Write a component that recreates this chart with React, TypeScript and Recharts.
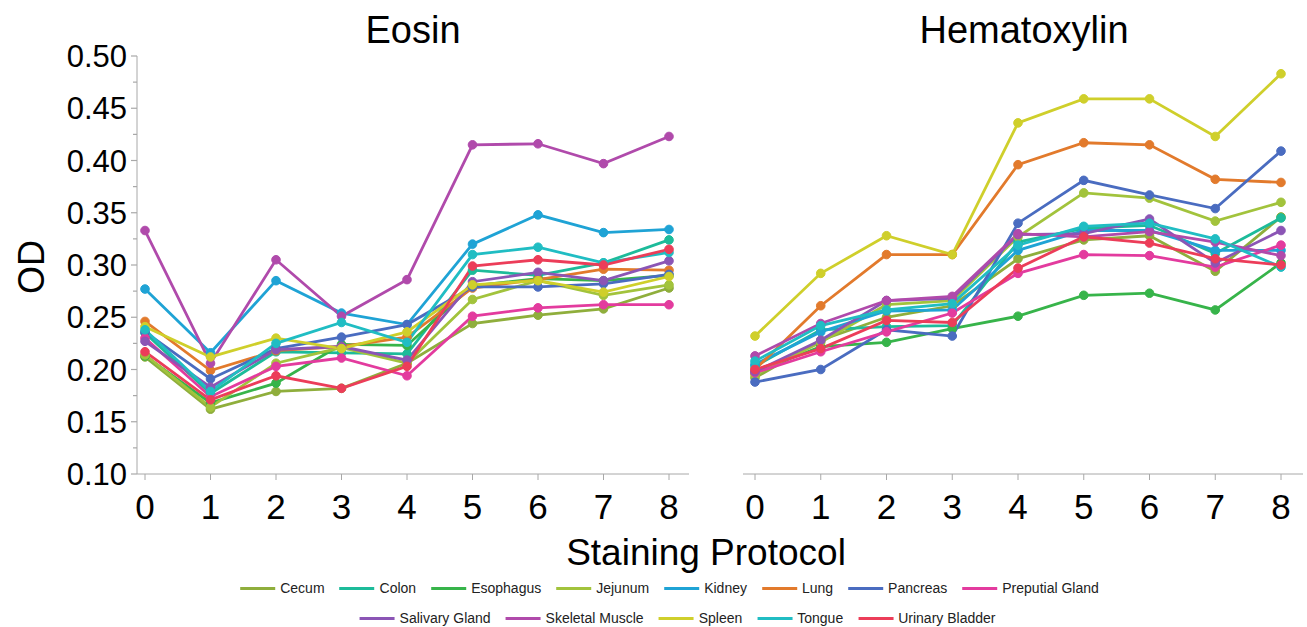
import { LineChart, Line, XAxis, YAxis } from 'recharts';

const protocols = [0, 1, 2, 3, 4, 5, 6, 7, 8];
const yTicks = [0.1, 0.125, 0.15, 0.175, 0.2, 0.225, 0.25, 0.275, 0.3, 0.325, 0.35, 0.375, 0.4, 0.425, 0.45, 0.475, 0.5];

const tissues = [
  'Cecum',
  'Colon',
  'Esophagus',
  'Jejunum',
  'Kidney',
  'Lung',
  'Pancreas',
  'Preputial Gland',
  'Salivary Gland',
  'Skeletal Muscle',
  'Spleen',
  'Tongue',
  'Urinary Bladder',
];
const tissueColors = [
  '#8fae3c',
  '#1dbb9a',
  '#37b44a',
  '#a2c33c',
  '#1fa3d5',
  '#e27a2c',
  '#4a6cc0',
  '#e33b9e',
  '#8b55b5',
  '#b04aab',
  '#cfcf2b',
  '#20bdc3',
  '#ec3d59',
];

// Eosin OD per protocol
const eosinCecum = [0.212, 0.162, 0.179, 0.182, 0.206, 0.244, 0.252, 0.258, 0.278];
const eosinColon = [0.235, 0.177, 0.217, 0.216, 0.215, 0.295, 0.29, 0.302, 0.324];
const eosinEsophagus = [0.213, 0.168, 0.187, 0.224, 0.223, 0.28, 0.287, 0.285, 0.29];
const eosinJejunum = [0.214, 0.164, 0.206, 0.221, 0.206, 0.267, 0.285, 0.271, 0.281];
const eosinKidney = [0.277, 0.216, 0.285, 0.254, 0.243, 0.32, 0.348, 0.331, 0.334];
const eosinLung = [0.246, 0.199, 0.218, 0.222, 0.231, 0.278, 0.286, 0.296, 0.295];
const eosinPancreas = [0.236, 0.191, 0.22, 0.231, 0.243, 0.279, 0.279, 0.282, 0.291];
const eosinPreputial = [0.23, 0.174, 0.203, 0.211, 0.194, 0.251, 0.259, 0.262, 0.262];
const eosinSalivary = [0.227, 0.183, 0.219, 0.222, 0.209, 0.284, 0.293, 0.285, 0.304];
const eosinSkeletal = [0.333, 0.206, 0.305, 0.251, 0.286, 0.415, 0.416, 0.397, 0.423];
const eosinSpleen = [0.241, 0.212, 0.23, 0.22, 0.236, 0.281, 0.285, 0.274, 0.289];
const eosinTongue = [0.238, 0.179, 0.225, 0.245, 0.226, 0.31, 0.317, 0.302, 0.312];
const eosinUrinary = [0.217, 0.171, 0.194, 0.182, 0.203, 0.299, 0.305, 0.3, 0.315];

// Hematoxylin OD per protocol
const hemaCecum = [0.192, 0.228, 0.25, 0.261, 0.306, 0.324, 0.328, 0.294, 0.346];
const hemaColon = [0.203, 0.238, 0.241, 0.242, 0.322, 0.335, 0.338, 0.311, 0.345];
const hemaEsophagus = [0.197, 0.222, 0.226, 0.239, 0.251, 0.271, 0.273, 0.257, 0.302];
const hemaJejunum = [0.195, 0.226, 0.262, 0.266, 0.327, 0.369, 0.364, 0.342, 0.36];
const hemaKidney = [0.205, 0.236, 0.256, 0.257, 0.314, 0.333, 0.333, 0.314, 0.314];
const hemaLung = [0.2, 0.261, 0.31, 0.31, 0.396, 0.417, 0.415, 0.382, 0.379];
const hemaPancreas = [0.188, 0.2, 0.238, 0.232, 0.34, 0.381, 0.367, 0.354, 0.409];
const hemaPreputial = [0.197, 0.217, 0.236, 0.254, 0.292, 0.31, 0.309, 0.298, 0.319];
const hemaSalivary = [0.198, 0.228, 0.266, 0.268, 0.329, 0.33, 0.344, 0.302, 0.333];
const hemaSkeletal = [0.213, 0.244, 0.266, 0.27, 0.33, 0.327, 0.332, 0.322, 0.309];
const hemaSpleen = [0.232, 0.292, 0.328, 0.31, 0.436, 0.459, 0.459, 0.423, 0.483];
const hemaTongue = [0.208, 0.242, 0.257, 0.263, 0.319, 0.337, 0.34, 0.325, 0.298];
const hemaUrinary = [0.2, 0.22, 0.247, 0.245, 0.297, 0.327, 0.321, 0.306, 0.3];

const eosinSeries = [
  eosinCecum, eosinColon, eosinEsophagus, eosinJejunum, eosinKidney, eosinLung, eosinPancreas,
  eosinPreputial, eosinSalivary, eosinSkeletal, eosinSpleen, eosinTongue, eosinUrinary,
];
const hemaSeries = [
  hemaCecum, hemaColon, hemaEsophagus, hemaJejunum, hemaKidney, hemaLung, hemaPancreas,
  hemaPreputial, hemaSalivary, hemaSkeletal, hemaSpleen, hemaTongue, hemaUrinary,
];

const toRows = (series: number[][]) =>
  protocols.map((p, i) => {
    const row: Record<string, number> = { protocol: p };
    tissues.forEach((t, k) => {
      row[t] = series[k][i];
    });
    return row;
  });

const eosinData = toRows(eosinSeries);
const hemaData = toRows(hemaSeries);

const FONT = '"Liberation Sans", Arial, Helvetica, sans-serif';
const AXIS = '#a8a8a8';
const Y_AXIS_WIDTH = 137; // left panel starts at page x=0, so the axis line sits here

// minor ticks every 0.025, labels only on the 0.05 steps
const YTick = (props: any) => {
  const { y, payload } = props;
  const v = payload.value;
  const major = Math.abs(v * 20 - Math.round(v * 20)) < 1e-6;
  const ax = Y_AXIS_WIDTH;
  return (
    <g>
      <line x1={ax - (major ? 6 : 4)} x2={ax} y1={y} y2={y} stroke={AXIS} strokeWidth={1.2} />
      {major && (
        <text x={ax - 10} y={y} dy="0.36em" textAnchor="end" fontSize={31} fill="#000" fontFamily={FONT}>
          {v.toFixed(2)}
        </text>
      )}
    </g>
  );
};

function Panel({ data, width, showY, pad }: { data: any[]; width: number; showY: boolean; pad: { left: number; right: number } }) {
  return (
    <LineChart width={width} height={530} data={data} margin={{ top: 56, right: showY ? 11 : 0, bottom: 0, left: 0 }}>
      <XAxis
        dataKey="protocol"
        type="number"
        domain={[0, 8]}
        ticks={protocols}
        padding={pad}
        height={56}
        tickSize={6}
        tickMargin={14}
        stroke={AXIS}
        tick={{ fontSize: 35, fill: '#000', fontFamily: FONT }}
      />
      <YAxis
        type="number"
        domain={[0.1, 0.5]}
        ticks={yTicks}
        interval={0}
        hide={!showY}
        width={Y_AXIS_WIDTH}
        tickSize={6}
        tickMargin={6}
        tickLine={false}
        stroke={AXIS}
        tick={<YTick />}
      />
      {tissues.map((t, k) => (
        <Line
          key={t}
          dataKey={t}
          stroke={tissueColors[k]}
          strokeWidth={2.8}
          dot={{ r: 4.3, fill: tissueColors[k], stroke: tissueColors[k], strokeWidth: 1 }}
          isAnimationActive={false}
        />
      ))}
    </LineChart>
  );
}

export default function App() {
  return (
    <div style={{ position: 'absolute', left: 0, top: 0, width: 1307, height: 627, background: '#fff', fontFamily: FONT }}>
      <div style={{ position: 'absolute', left: 0, top: 0 }}>
        <Panel data={eosinData} width={700} showY pad={{ left: 8, right: 20 }} />
      </div>
      <div style={{ position: 'absolute', left: 743, top: 0 }}>
        <Panel data={hemaData} width={560} showY={false} pad={{ left: 12, right: 22 }} />
      </div>

      <svg width={1307} height={627} style={{ position: 'absolute', left: 0, top: 0, pointerEvents: 'none' }}>
        <text x={413} y={43} textAnchor="middle" fontSize={38} fill="#000" fontFamily={FONT}>
          Eosin
        </text>
        <text x={1024} y={43} textAnchor="middle" fontSize={38} fill="#000" fontFamily={FONT}>
          Hematoxylin
        </text>
        <text x={44} y={267} textAnchor="middle" fontSize={36} fill="#000" fontFamily={FONT} transform="rotate(-90 44 267)">
          OD
        </text>
        <text x={706} y={565} textAnchor="middle" fontSize={37} fill="#000" fontFamily={FONT}>
          Staining Protocol
        </text>
      </svg>

      {[tissues.slice(0, 8), tissues.slice(8)].map((row, r) => (
        <div
          key={r}
          style={{
            position: 'absolute',
            left: r === 0 ? 677 : 685,
            top: r === 0 ? 579 : 609,
            transform: 'translateX(-50%)',
            display: 'flex',
            alignItems: 'center',
            whiteSpace: 'nowrap',
            fontSize: 14,
            lineHeight: '18px',
            color: '#222',
          }}
        >
          {row.map((t) => {
            const k = tissues.indexOf(t);
            return (
              <div key={t} style={{ display: 'flex', alignItems: 'center', marginRight: 15 }}>
                <div style={{ width: 35, height: 3, background: tissueColors[k], marginRight: 5 }} />
                <span>{t}</span>
              </div>
            );
          })}
        </div>
      ))}
    </div>
  );
}
